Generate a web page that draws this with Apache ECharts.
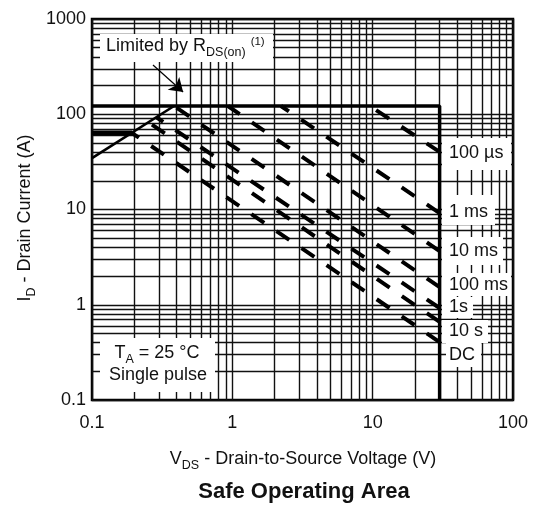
<!DOCTYPE html>
<html>
<head>
<meta charset="utf-8">
<script src="https://cdn.jsdelivr.net/npm/echarts@6/dist/echarts.min.js"></script>
<style>
html, body { margin: 0; background: #fff; }
#main { width: 535px; height: 505px; }
</style>
</head>
<body>
<div id="main"></div>
<script>
var FONT = '"Liberation Sans", Arial, sans-serif';

// log grid values (minor lines, the decades come from the axes)
var xMinor = [0.2, 0.3, 0.4, 0.5, 0.6, 0.7, 0.8, 0.9, 2, 3, 4, 5, 6, 7, 8, 9, 20, 30, 40, 50, 60, 70, 80, 90];
var yMinor = [0.2, 0.3, 0.4, 0.5, 0.6, 0.7, 0.8, 0.9, 2, 3, 4, 5, 6, 7, 8, 9,
              20, 30, 40, 50, 60, 70, 80, 90, 200, 300, 400, 500, 600, 700, 800, 900];

// SOA limits [VDS, ID]
var rdsLimit = [[0.1, 34.7], [0.384, 122]];
var currentLimit = [[0.1, 122], [30, 122], [30, 0.1]];
var plateau = [[0.1, 63.5], [0.193, 63.5]];

// pulse curves, listed from the 30 V end back to where they start
var curveNames = ['100 µs', '1 ms', '10 ms', '100 ms', '1s', '10 s', 'DC'];
var pulse100us = [[30, 40.2], [9.57, 122]];
var pulse1ms = [[30, 9.18], [2.22, 122]];
var pulse10ms = [[30, 3.66], [0.93, 122]];
var pulse100ms = [[30, 1.53], [0.384, 122]];
var pulse1s = [[30, 0.925], [0.286, 93.5]];
var pulse10s = [[30, 0.66], [0.251, 83]];
var pulseDC = [[30, 0.406], [0.193, 63.5]];
var curves = [pulse100us, pulse1ms, pulse10ms, pulse100ms, pulse1s, pulse10s, pulseDC];

// arrow of the RDS(on) note
var arrowFrom = [0.272, 329];
var arrowTo = [0.446, 171];

// label boxes at the right: [x, y, w, h], text centre y
var labelBoxes = [[442, 138, 69, 32], [442, 195, 53, 30], [442, 237, 61, 28], [442, 273, 69, 23],
                  [442, 297, 31, 21], [442, 320, 46, 23], [446, 343, 35, 24]];
var labelY = [153, 212, 251, 285, 307, 331, 355];

var myChart = echarts.init(document.getElementById('main'));

var series = [];

// minor grid lines
series.push({
    type: 'line',
    data: [],
    z: 0,
    silent: true,
    markLine: {
        silent: true,
        z: 0,
        symbol: 'none',
        animation: false,
        label: { show: false },
        lineStyle: { color: '#111', width: 1.4, type: 'solid' },
        data: xMinor.map(function (v) { return { xAxis: v }; })
            .concat(yMinor.map(function (v) { return { yAxis: v }; }))
    }
});

series.push({
    type: 'line',
    data: rdsLimit,
    z: 3,
    symbol: 'none',
    lineStyle: { color: '#000', width: 2.6 },
    markLine: {
        silent: true,
        z: 5,
        symbol: ['none', 'arrow'],
        symbolSize: 13,
        animation: false,
        label: { show: false },
        lineStyle: { color: '#000', width: 1.2, type: 'solid' },
        data: [[{ coord: arrowFrom }, { coord: arrowTo }]]
    }
});
series.push({
    type: 'line',
    data: currentLimit,
    z: 3,
    symbol: 'none',
    lineStyle: { color: '#000', width: 3.5 }
});
series.push({
    type: 'line',
    data: plateau,
    z: 3,
    symbol: 'none',
    lineStyle: { color: '#000', width: 5 }
});

for (var i = 0; i < curves.length; i++) {
    series.push({
        name: curveNames[i],
        type: 'line',
        data: curves[i],
        z: 3,
        symbol: 'none',
        lineStyle: { color: '#000', width: 4, type: [15.5, 14.8], cap: 'butt' }
    });
}

var graphic = [];

function box(x, y, w, h) {
    graphic.push({ type: 'rect', z: 1, silent: true, shape: { x: x, y: y, width: w, height: h },
        style: { fill: '#fff' } });
}
function label(x, y, text, rich, align) {
    graphic.push({ type: 'text', z: 6, silent: true, x: x, y: y,
        style: { text: text, rich: rich, align: align || 'left', verticalAlign: 'middle',
            fill: '#111', font: '18px ' + FONT } });
}

var richMain = {
    a: { fontSize: 18, fontFamily: FONT, color: '#111', lineHeight: 26 },
    s: { fontSize: 12.5, fontFamily: FONT, color: '#111', lineHeight: 12, verticalAlign: 'bottom' },
    p: { fontSize: 11.5, fontFamily: FONT, color: '#111', lineHeight: 14, verticalAlign: 'middle', padding: [0, 0, 8, 0] }
};

// note boxes
box(100, 34, 173, 28);
label(106, 46, '{a|Limited by R}{s|DS(on)}{a| }{p|(1)}', richMain);
box(100, 338, 115, 54);
label(157, 353, '{a|T}{s|A}{a| = 25 °C}', richMain, 'center');
label(158, 375, '{a|Single pulse}', richMain, 'center');

for (var k = 0; k < curveNames.length; k++) {
    var b = labelBoxes[k];
    box(b[0], b[1], b[2], b[3]);
    label(449, labelY[k], '{a|' + curveNames[k] + '}', richMain);
}

// axis titles and chart title
label(303, 459, '{a|V}{s|DS}{a| - Drain-to-Source Voltage (V)}', richMain, 'center');
graphic.push({ type: 'text', z: 6, silent: true, x: 25, y: 218, rotation: Math.PI / 2,
    style: { text: '{a|I}{s|D}{a| - Drain Current (A)}', rich: richMain, align: 'center',
        verticalAlign: 'middle', fill: '#111', font: '18px ' + FONT } });
graphic.push({ type: 'text', z: 6, silent: true, x: 304, y: 492,
    style: { text: 'Safe Operating Area', align: 'center', verticalAlign: 'middle',
        fill: '#111', font: 'bold 22px ' + FONT } });

function plainNumber(v) {
    return String(v);
}

var option = {
    animation: false,
    backgroundColor: '#fff',
    grid: {
        left: 92,
        right: 22,
        top: 19,
        bottom: 105,
        show: true,
        borderColor: '#000',
        borderWidth: 2.5,
        backgroundColor: 'transparent'
    },
    xAxis: {
        type: 'log',
        logBase: 10,
        min: 0.1,
        max: 100,
        axisLine: { show: false },
        axisTick: { show: false },
        axisLabel: { color: '#111', fontSize: 18, fontFamily: FONT, margin: 14, formatter: plainNumber },
        splitLine: { show: true, lineStyle: { color: '#111', width: 1.4 } }
    },
    yAxis: {
        type: 'log',
        logBase: 10,
        min: 0.1,
        max: 1000,
        axisLine: { show: false },
        axisTick: { show: false },
        axisLabel: { color: '#111', fontSize: 18, fontFamily: FONT, margin: 6, formatter: plainNumber },
        splitLine: { show: true, lineStyle: { color: '#111', width: 1.4 } }
    },
    series: series,
    graphic: graphic
};

myChart.setOption(option);
</script>
</body>
</html>
